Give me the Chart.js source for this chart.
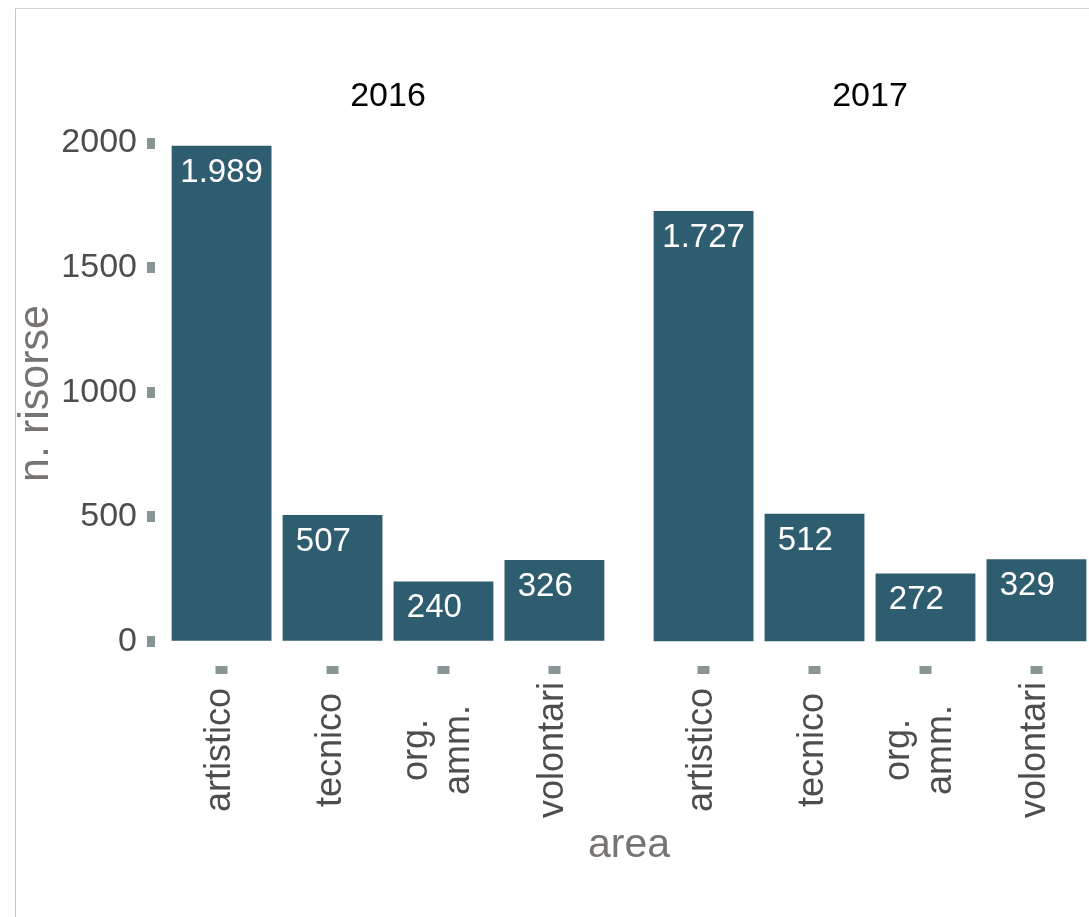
<!DOCTYPE html>
<html>
<head>
<meta charset="utf-8">
<script src="https://cdn.jsdelivr.net/npm/chart.js@4.4.1/dist/chart.umd.min.js"></script>
<style>
html,body{margin:0;padding:0;background:#fff;width:1089px;height:917px;overflow:hidden;position:relative;}
#frame{position:absolute;left:15px;top:8px;width:1200px;height:1000px;border-left:1px solid #c4c4c4;border-top:1px solid #d4d4d4;}
canvas{position:absolute;top:0;}
#c1{left:0;}
#c2{left:637px;}
#xtitle{position:absolute;left:0;width:1258px;top:823px;text-align:center;font-family:"Liberation Sans",Arial,sans-serif;font-size:41px;line-height:41px;color:#767371;}
</style>
</head>
<body>
<div id="frame"></div>
<canvas id="c1" width="625" height="917"></canvas>
<canvas id="c2" width="470" height="917"></canvas>
<div id="xtitle">area</div>
<script>
// ---- data ----
const years = ['2016', '2017'];
const categories = [['artistico'], ['tecnico'], ['org.', 'amm.'], ['volontari']];
const values2016 = [1989, 507, 240, 326];
const values2017 = [1727, 512, 272, 329];
const yTicks = [0, 500, 1000, 1500, 2000];
const yTitle = 'n. risorse';

// ---- styling ----
const FONT = '"Liberation Sans", Arial, sans-serif';
const BAR = '#2f5d70';
const TICK = '#879694';
const TEXT = '#4d4d4d';
const TITLE = '#767371';
Chart.defaults.font.family = FONT;

const allVals = values2016.concat(values2017);
const dataMax = Math.max(...allVals);
const expand = dataMax * 0.05;
const Y_MIN = 0 - expand, Y_MAX = dataMax + expand;

function fmt(v) { return String(v).replace(/\B(?=(\d{3})+(?!\d))/g, '.'); }
const labelWidth = Math.max(...allVals.map(v => fmt(v).length));

const facetDecor = {
  id: 'facetDecor',
  afterDatasetsDraw(chart, args, opts) {
    const ctx = chart.ctx, area = chart.chartArea;
    ctx.save();
    // strip label
    ctx.font = '34px ' + FONT;
    ctx.fillStyle = '#000';
    ctx.textAlign = 'center';
    ctx.textBaseline = 'alphabetic';
    ctx.fillText(opts.strip, (area.left + area.right) / 2, area.top - 15);
    // value labels
    ctx.font = '33px ' + FONT;
    ctx.fillStyle = '#ffffff';
    const meta = chart.getDatasetMeta(0);
    const vals = chart.data.datasets[0].data;
    meta.data.forEach((bar, i) => {
      const txt = fmt(vals[i].y).padEnd(labelWidth, ' ');
      ctx.fillText(txt, bar.x, bar.y + 36);
    });
    // category labels (rotated, centred)
    const xs = chart.scales.x;
    ctx.font = '36px ' + FONT;
    ctx.fillStyle = TEXT;
    categories.forEach((lines, i) => {
      const px = xs.getPixelForValue(i + 1);
      ctx.save();
      ctx.translate(px, area.bottom + 84);
      ctx.rotate(-Math.PI / 2);
      ctx.textAlign = 'center';
      lines.forEach((ln, j) => {
        const off = (j - (lines.length - 1) / 2) * 42 + 8.5 / lines.length;
        ctx.fillText(ln, 0, off);
      });
      ctx.restore();
    });
    ctx.restore();
  }
};

function makeChart(id, values, strip, showY) {
  return new Chart(document.getElementById(id), {
    type: 'bar',
    data: {
      datasets: [{
        data: values.map((v, i) => ({ x: i + 1, y: v })),
        backgroundColor: BAR,
        borderWidth: 0,
        categoryPercentage: 1,
        barPercentage: 0.9
      }]
    },
    options: {
      responsive: false,
      devicePixelRatio: 1,
      animation: false,
      layout: { padding: { top: 121, right: 4, bottom: 0, left: 0 } },
      plugins: { legend: { display: false }, tooltip: { enabled: false }, facetDecor: { strip: strip } },
      scales: {
        x: {
          type: 'linear',
          offset: false,
          bounds: 'data',
          min: 0.4,
          max: categories.length + 0.6,
          afterBuildTicks: s => { s.ticks = categories.map((c, i) => ({ value: i + 1 })); },
          ticks: { display: false },
          grid: { offset: false, drawOnChartArea: false, drawTicks: true, tickLength: 8, tickWidth: 12, tickColor: TICK },
          border: { display: false },
          afterFit: s => { s.height = 251; }
        },
        y: {
          display: showY,
          min: Y_MIN,
          max: Y_MAX,
          afterBuildTicks: s => { s.ticks = yTicks.map(v => ({ value: v })); },
          ticks: { font: { size: 34 }, color: TEXT, padding: 10, callback: v => String(v) },
          grid: { drawOnChartArea: false, drawTicks: true, tickLength: 8, tickWidth: 11, tickColor: TICK },
          border: { display: false },
          title: { display: true, text: yTitle, font: { size: 43 }, color: TITLE, padding: { top: 10, bottom: 0 } },
          afterFit: s => { s.width = showY ? 155 : 0; }
        }
      }
    },
    plugins: [facetDecor]
  });
}

makeChart('c1', values2016, years[0], true);
makeChart('c2', values2017, years[1], false);
</script>
</body>
</html>
